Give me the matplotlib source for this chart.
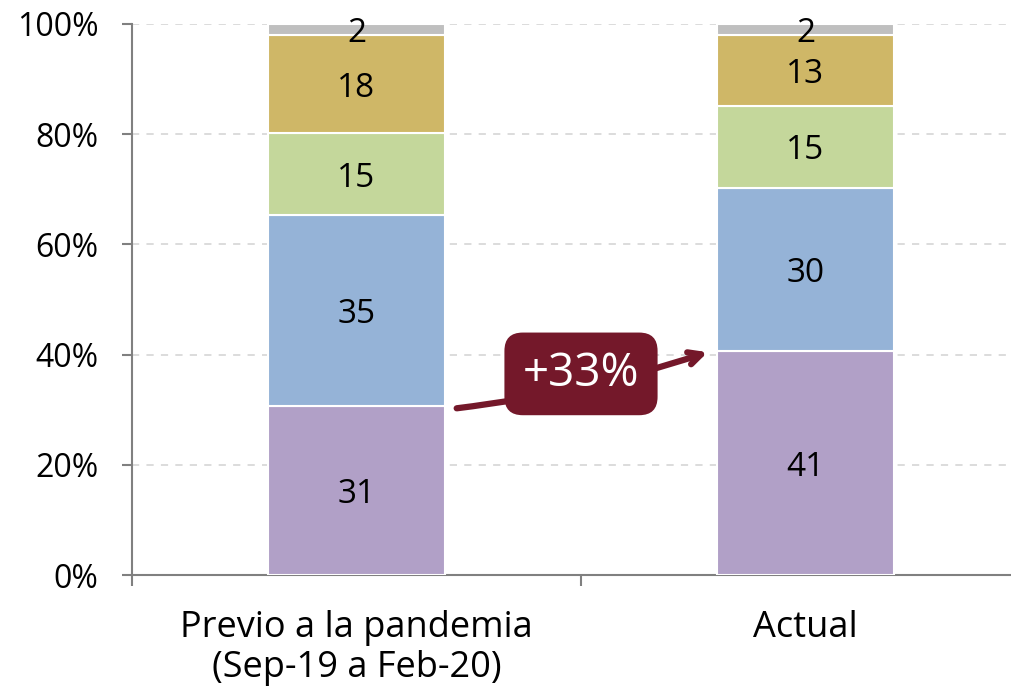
import numpy as np
import matplotlib.pyplot as plt
from matplotlib.ticker import FuncFormatter

plt.rcParams['font.family'] = ['Open Sans', 'DejaVu Sans']

categories = ["Previo a la pandemia\n(Sep-19 a Feb-20)", "Actual"]
# segments from bottom to top, values shown on the bars
seg1 = [31, 41]
seg2 = [35, 30]
seg3 = [15, 15]
seg4 = [18, 13]
seg5 = [2, 2]
colors = ["#B1A0C7", "#95B3D7", "#C4D79B", "#CFB767", "#BFBFBF"]
change_label = "+33%"

raw = np.array([seg1, seg2, seg3, seg4, seg5], dtype=float)
shares = raw / raw.sum(axis=0) * 100

fig = plt.figure(figsize=(10.12, 6.88), dpi=100)
ax = fig.add_axes([132 / 1012, 113 / 688, 898 / 1012, 551 / 688])

x = np.arange(len(categories))
width = 0.394
bottom = np.zeros(len(categories))
for vals, shown, col in zip(shares, raw, colors):
    ax.bar(x, vals, width, bottom=bottom, color=col, edgecolor="white",
           linewidth=1.5, zorder=3)
    for xi, b, v, s in zip(x, bottom, vals, shown):
        ax.text(xi, b + v / 2, f"{int(s)}", ha="center", va="center_baseline",
                fontsize=24, color="black", zorder=5)
    bottom = bottom + vals

ax.set_xlim(-0.5, 1.5)
ax.set_ylim(0, 100)
ax.set_yticks(np.arange(0, 101, 20))
ax.yaxis.set_major_formatter(FuncFormatter(lambda v, p: f"{int(v)}%"))
ax.tick_params(axis="y", labelsize=23, length=7, width=1.5, color="#808080",
               pad=17)
ax.grid(axis="y", color="#D9D9D9", linestyle=(0, (4, 4)), linewidth=1.3,
        zorder=0)

ax.set_xticks([-0.5, 0.5, 1.5])
ax.set_xticklabels([])
ax.set_xticks(x, minor=True)
ax.set_xticklabels(categories, minor=True)
ax.tick_params(axis="x", which="major", length=8, width=1.5, color="#808080")
ax.tick_params(axis="x", which="minor", length=0, labelsize=26, pad=25)
for lbl in ax.get_xticklabels(minor=True):
    lbl.set_linespacing(1.15)

for s in ["top", "right"]:
    ax.spines[s].set_visible(False)
for s in ["left", "bottom"]:
    ax.spines[s].set_color("#808080")
    ax.spines[s].set_linewidth(1.5)

# arrow from top of first purple segment to top of second
maroon = "#74182A"
y0 = shares[0][0]
y1 = shares[0][1]
ax.annotate("", xy=(x[1] - width / 2 - 0.015, y1),
            xytext=(x[0] + width / 2 + 0.02, y0 - 0.5),
            arrowprops=dict(arrowstyle="->,head_length=0.9,head_width=0.45",
                            color=maroon, lw=4.5,
                            connectionstyle="arc3,rad=0.05"),
            zorder=6)
ax.text(0.5, 36.5, change_label, ha="center", va="center", fontsize=33,
        color="white", zorder=7,
        bbox=dict(boxstyle="round,pad=0.4,rounding_size=0.4",
                  facecolor=maroon, edgecolor="none"))

fig.savefig("out.png", dpi=100)
